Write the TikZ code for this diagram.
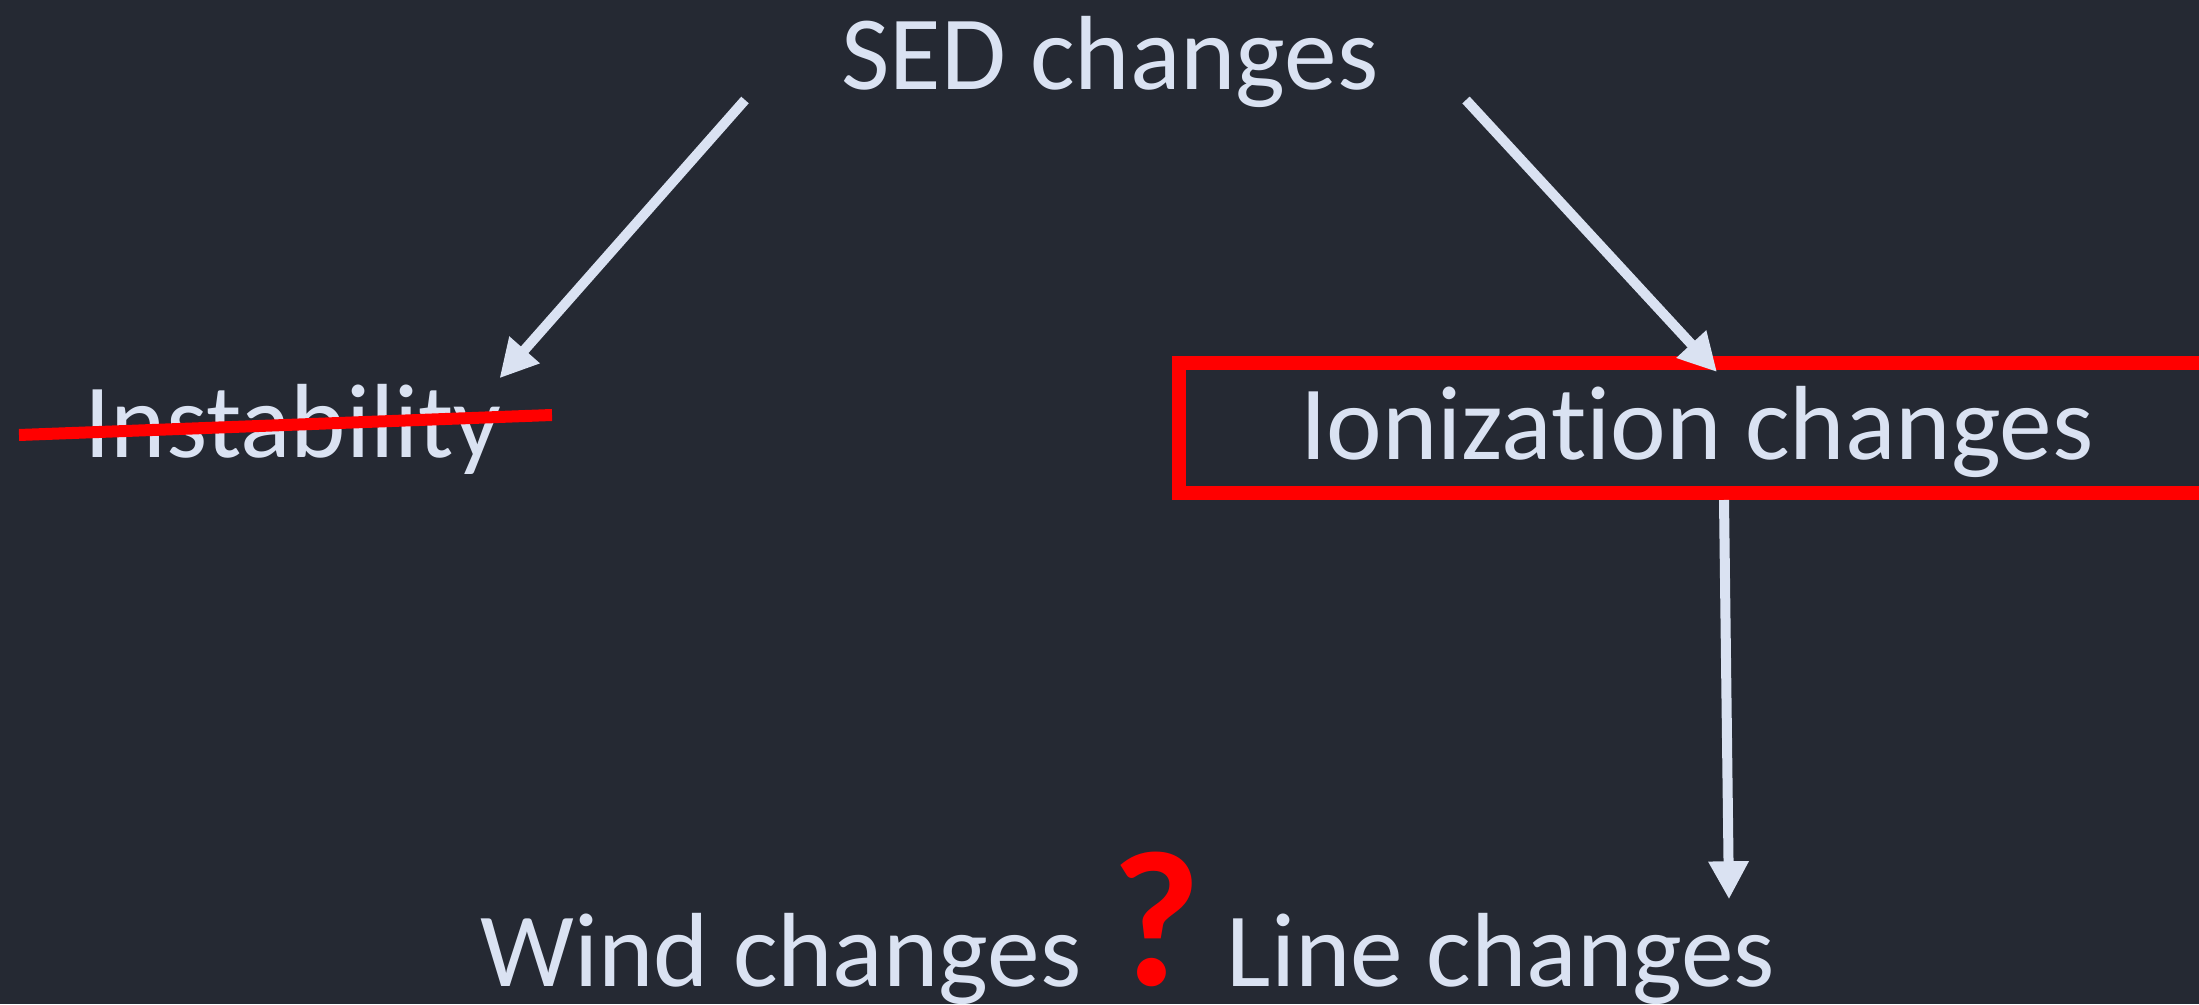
\documentclass[tikz,border=0pt]{standalone}
\usepackage{fontspec}
\setmainfont{Carlito}[Ligatures=NoCommon]
\usetikzlibrary{arrows.meta}
\definecolor{tafel}{RGB}{37,41,51}
\definecolor{kreide}{RGB}{218,226,242}
\begin{document}
\begin{tikzpicture}[
	txt/.style={text=kreide, font=\fontsize{30}{36}\selectfont, inner sep=0pt,
		text height=0.68cm, text depth=0pt, anchor=base},
	pfeil/.style={draw=kreide, line width=0.10cm,
		-{Triangle[length=0.38cm,width=0.38cm]}},
	]
	
	% Hintergrund (Tafel)
	\path[use as bounding box, fill=tafel] (0,0) rectangle (21.99,10.04);
	
	% Texte
	\node[txt] (sed) at (11.10,9.14) {SED changes};
	\node[txt] (inst) at (2.93,5.46) {Instability};
	\node[txt] (ion) at (16.97,5.44) {Ionization changes};
	\node[txt] (wind) at (7.81,0.18) {Wind changes};
	\node[txt] (line) at (15.01,0.18) {Line changes};
	
	% Rotes Fragezeichen
	\node[text=red, font=\fontsize{55}{60}\selectfont\bfseries, inner sep=0pt, anchor=base]
	(frage) at (11.56,0.19) {?};
	
	% Roter Rahmen um Ionization changes
	\node[draw=red, line width=0.14cm, minimum width=10.36cm, minimum height=1.30cm,
	inner sep=0pt] (ionbox) at (16.97,5.76) {};
	
	% Pfeile
	\draw[pfeil] ([shift={(-3.65,-0.10)}]sed.base) -- ([shift={(-0.03,0.11)}]inst.north east);
	\draw[pfeil] ([shift={(3.56,-0.10)}]sed.base) -- ([shift={(0.20,-0.16)}]ionbox.north);
	\draw[pfeil] ([xshift=0.27cm]ionbox.south) -- ([shift={(2.28,0.18)}]line.north);
	
	% Durchgestrichen
	\draw[red, line width=0.12cm]
	([shift={(-2.74,0.23)}]inst.base) -- ([shift={(2.59,0.43)}]inst.base);
	
\end{tikzpicture}
\end{document}
